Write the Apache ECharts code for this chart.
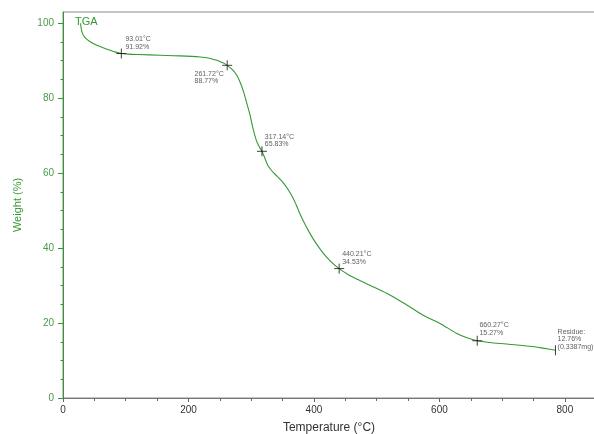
<!DOCTYPE html>
<html>
<head>
<meta charset="utf-8">
<script src="https://cdn.jsdelivr.net/npm/echarts@6/dist/echarts.min.js"></script>
<style>
html,body{margin:0;padding:0;background:#fff;}
#chart{width:594px;height:434px;}
</style>
</head>
<body>
<div id="chart"></div>
<script>
// Curve data (temperature °C, weight %)
var temps = [28, 29, 31, 35, 42, 54, 65, 75, 84, 93.01, 105, 120, 155, 185, 218, 235, 245, 254, 261.72,
  270, 277, 283, 288, 293, 298, 303, 308, 312, 317.14, 322, 327, 334, 341, 348, 354, 360, 365, 370, 375,
  380, 386, 392, 399, 407, 415, 427, 440.21, 455, 470, 494, 521, 548, 574, 601, 627, 645, 660.27, 680,
  707, 744, 765, 785];
var weights = [100, 98.6, 97.3, 96.2, 95.2, 94.1, 93.4, 92.8, 92.3, 91.92, 91.75, 91.65, 91.45, 91.3, 91.0, 90.6, 90.1, 89.5, 88.77,
  87.6, 86.1, 84.0, 81.6, 78.6, 75.6, 71.8, 68.8, 67.3, 65.83, 63.9, 61.9, 60.4, 59.2, 58.0, 56.8, 55.3, 53.9, 52.2, 50.2,
  48.3, 46.3, 44.4, 42.4, 40.4, 38.6, 36.4, 34.53, 32.9, 31.6, 29.7, 27.5, 24.8, 22.1, 19.9, 17.3, 16.0, 15.27, 14.8,
  14.4, 13.8, 13.3, 12.76];

// Annotated points
var markTemps = [93.01, 261.72, 317.14, 440.21, 660.27];
var markWeights = [91.92, 88.77, 65.83, 34.53, 15.27];
var markTexts = ['93.01°C\n91.92%', '261.72°C\n88.77%', '317.14°C\n65.83%', '440.21°C\n34.53%', '660.27°C\n15.27%'];
var residueTemp = [785];
var residueWeight = [12.76];
var residueText = ['Residue:\n12.76%\n(0.3387mg)'];

// Tick labels
var xTicks = [0, 200, 400, 600, 800];
var xMinorTicks = [50, 100, 150, 250, 300, 350, 450, 500, 550, 650, 700, 750];
var yTicks = [0, 20, 40, 60, 80, 100];
var yMinorTicks = [5, 10, 15, 25, 30, 35, 45, 50, 55, 65, 70, 75, 85, 90, 95];

// label offsets (styling), relative to symbol box top-left
var markLabelPos = [[9.6, -12.3], [-27.2, 10.2], [8.3, -12.8], [8.5, -12.5], [7.7, -13.7]];

var green = '#339933';
var greenText = '#4a9a4a';
var font = '"Liberation Sans", Arial, sans-serif';

var lineData = temps.map(function (t, i) { return [t, weights[i]]; });
var markData = markTemps.map(function (t, i) {
  return {
    value: [t, markWeights[i]],
    label: { show: true, formatter: markTexts[i], position: markLabelPos[i] }
  };
});
var resData = residueTemp.map(function (t, i) {
  return {
    value: [t, residueWeight[i]],
    label: { show: true, formatter: residueText[i], position: [2.6, -17.2] }
  };
});

var chart = echarts.init(document.getElementById('chart'), null, { renderer: 'canvas' });
chart.setOption({
  animation: false,
  backgroundColor: '#fff',
  title: {
    text: 'TGA', left: 70, top: 11,
    textStyle: { color: green, fontSize: 11, fontWeight: 'normal', fontFamily: font }
  },
  grid: {
    left: 63, top: 12, right: -1, bottom: 36,
    containLabel: false, outerBoundsMode: 'none',
    show: true, borderColor: '#888', borderWidth: 1, backgroundColor: 'transparent'
  },
  xAxis: [{
    type: 'value', min: 0, max: 848,
    name: 'Temperature (°C)', nameLocation: 'middle', nameGap: 24,
    nameTextStyle: { color: '#333', fontSize: 12, fontFamily: font },
    axisLine: { show: true, lineStyle: { color: '#777', width: 1 } },
    axisTick: { show: true, length: 4, customValues: xTicks, lineStyle: { color: '#666' } },
    axisLabel: { show: true, customValues: xTicks, color: '#333', fontSize: 10, fontFamily: font, margin: 7 },
    splitLine: { show: false }
  }, {
    type: 'value', min: 0, max: 848, position: 'bottom',
    axisLine: { show: false },
    axisTick: { show: true, length: 3, customValues: xMinorTicks, lineStyle: { color: '#666' } },
    axisLabel: { show: false },
    splitLine: { show: false }
  }],
  yAxis: [{
    type: 'value', min: 0, max: 103,
    name: 'Weight (%)', nameLocation: 'middle', nameGap: 40, nameRotate: 90,
    nameTextStyle: { color: green, fontSize: 11, fontFamily: font },
    axisLine: { show: true, lineStyle: { color: green, width: 1 } },
    axisTick: { show: true, length: 5, customValues: yTicks, lineStyle: { color: green } },
    axisLabel: { show: true, customValues: yTicks, color: greenText, fontSize: 10, fontFamily: font, margin: 9 },
    splitLine: { show: false }
  }, {
    type: 'value', min: 0, max: 103, position: 'left',
    axisLine: { show: false },
    axisTick: { show: true, length: 2.5, customValues: yMinorTicks, lineStyle: { color: green } },
    axisLabel: { show: false },
    splitLine: { show: false }
  }],
  series: [{
    type: 'line', name: 'TGA', data: lineData, smooth: 0.3,
    showSymbol: false, symbol: 'none',
    lineStyle: { color: green, width: 1.1 }
  }, {
    type: 'scatter', data: markData,
    symbol: 'path://M0,-5L0,5M-5,0L5,0', symbolSize: 10,
    itemStyle: { color: 'transparent', borderColor: '#111', borderWidth: 1 },
    label: { show: true, color: '#333', fontSize: 7, lineHeight: 7.5, fontFamily: font, align: 'left', verticalAlign: 'top' },
    z: 5
  }, {
    type: 'scatter', data: resData,
    symbol: 'rect', symbolSize: [1, 10],
    itemStyle: { color: '#111' },
    label: { show: true, color: '#333', fontSize: 7, lineHeight: 7.5, fontFamily: font, align: 'left', verticalAlign: 'top' },
    z: 5
  }]
});
</script>
</body>
</html>
